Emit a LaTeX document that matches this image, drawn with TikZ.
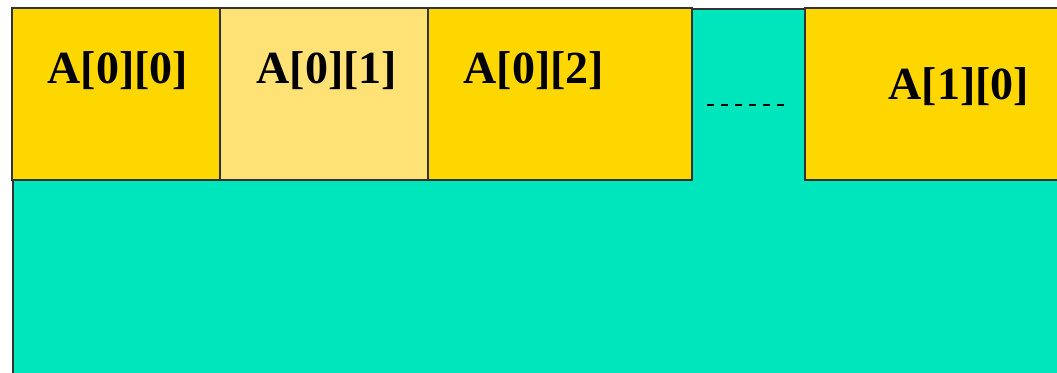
\documentclass[tikz,border=0pt]{standalone}
\usepackage{fontspec}
\setmainfont{Liberation Serif}
\usetikzlibrary{positioning}

\definecolor{memteal}{RGB}{0,230,188}
\definecolor{cellgold}{RGB}{255,215,0}
\definecolor{celllight}{RGB}{255,226,117}

\begin{document}
\begin{tikzpicture}[
  x=1pt, y=-1pt,
  memory/.style={draw=black!80, line width=2pt, fill=memteal, inner sep=0pt, anchor=north west},
  cell/.style={draw=black!80, line width=2pt, fill=cellgold, minimum height=172pt, inner sep=0pt, outer sep=0pt, anchor=north west},
  lbl/.style={font=\fontsize{46}{50}\selectfont\bfseries, anchor=base, inner sep=0pt},
  gap/.style={line width=2pt, dash pattern=on 7pt off 7pt},
]
\useasboundingbox (0,0) rectangle (1057,372);
\clip (0,0) rectangle (1057,372);

% Memory block
\node[memory, minimum width=1070pt, minimum height=380pt] (mem) at (12,8) {};

% Row 0 cells
\node[cell, minimum width=208pt] (a00) at (12,8) {};
\node[cell, fill=celllight, minimum width=208pt] (a01) at (a00.north east) {};
\node[cell, minimum width=264pt] (a02) at (a01.north east) {};

% Row 1 first cell
\node[cell, minimum width=270pt] (a10) at (805,8) {};

% Labels
\node[lbl] (l00) at (118,83) {A[0][0]};
\node[lbl] (l01) at (327,83) {A[0][1]};
\node[lbl] (l02) at (534,83) {A[0][2]};
\node[lbl] (l10) at (959,99) {A[1][0]};

% Skipped elements
\coordinate (gapL) at (707,105);
\coordinate (gapR) at (785,105);
\draw[gap] (gapL) -- (gapR);

\end{tikzpicture}
\end{document}
